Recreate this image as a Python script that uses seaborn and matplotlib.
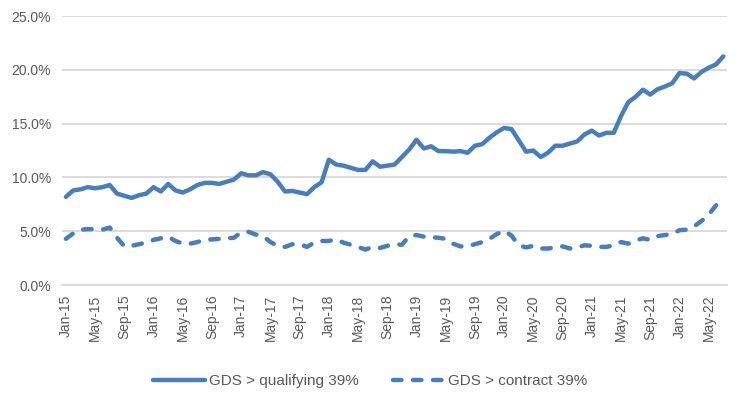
import numpy as np
import pandas as pd
import seaborn as sns
import matplotlib.pyplot as plt
from matplotlib.ticker import FuncFormatter, FixedLocator
from matplotlib.lines import Line2D

# Monthly data Jan-15 .. Jul-22 (share of borrowers, %)
months = pd.date_range("2015-01-01", "2022-07-01", freq="MS")

gds_qualifying = [
    8.2, 8.8, 8.9, 9.1, 9.0, 9.1, 9.3, 8.5, 8.3, 8.1, 8.35, 8.5,
    9.1, 8.7, 9.4, 8.8, 8.6, 8.9, 9.3, 9.5, 9.5, 9.4, 9.6, 9.8,
    10.4, 10.2, 10.2, 10.5, 10.3, 9.6, 8.7, 8.75, 8.6, 8.45, 9.1, 9.55,
    11.65, 11.2, 11.1, 10.9, 10.7, 10.7, 11.5, 11.0, 11.1, 11.2, 11.9, 12.6,
    13.5, 12.7, 12.9, 12.45, 12.45, 12.4, 12.45, 12.3, 12.95, 13.1, 13.7, 14.2,
    14.6, 14.5, 13.45, 12.4, 12.5, 11.9, 12.3, 12.95, 12.95, 13.15, 13.35, 14.0,
    14.35, 13.9, 14.15, 14.15, 15.7, 17.0, 17.5, 18.15, 17.7, 18.2, 18.45, 18.75,
    19.7, 19.65, 19.2, 19.8, 20.2, 20.5, 21.25,
]

gds_contract = [
    4.3, 4.8, 5.15, 5.2, 5.2, 5.15, 5.35, 4.4, 3.6, 3.65, 3.8, 3.95,
    4.2, 4.35, 4.5, 4.1, 3.85, 3.85, 4.0, 4.2, 4.25, 4.3, 4.35, 4.4,
    4.9, 4.95, 4.7, 4.55, 4.0, 3.65, 3.55, 3.8, 3.8, 3.55, 3.95, 4.1,
    4.1, 4.25, 3.95, 3.75, 3.55, 3.3, 3.55, 3.45, 3.65, 3.8, 3.75, 4.55,
    4.65, 4.5, 4.45, 4.4, 4.3, 3.85, 3.6, 3.6, 3.8, 4.0, 4.3, 4.75,
    5.05, 4.6, 3.7, 3.5, 3.65, 3.4, 3.4, 3.5, 3.6, 3.4, 3.5, 3.7,
    3.65, 3.55, 3.55, 3.7, 4.0, 3.85, 4.15, 4.35, 4.2, 4.55, 4.65, 4.75,
    5.1, 5.15, 5.45, 5.95, 6.55, 7.4, 8.25,
]

series_names = ["GDS > qualifying 39%", "GDS > contract 39%"]

df = pd.DataFrame({
    "idx": np.arange(len(months)),
    series_names[0]: np.array(gds_qualifying) / 100,
    series_names[1]: np.array(gds_contract) / 100,
})
long = df.melt(id_vars="idx", var_name="series", value_name="share")

blue = "#4a7ebb"
grey_txt = "#595959"
grid_c = "#d9d9d9"
dash = (1.9, 2.6)

sns.set_style("white")
plt.rcParams["font.family"] = ["Liberation Sans", "DejaVu Sans"]

fig = plt.figure(figsize=(7.41, 4.01), dpi=100)
ax = fig.add_axes([0.084, 0.289, 0.897, 0.671])

sns.lineplot(data=long, x="idx", y="share", hue="series", style="series",
             palette=[blue, blue], dashes=[(None, None), dash],
             linewidth=3.2, ax=ax, legend=False)
for ln in ax.get_lines():
    ln.set_solid_capstyle("round")
    ln.set_dash_capstyle("round")
    ln.set_solid_joinstyle("round")

ax.set_xlim(-0.5, len(months) - 0.5)
ax.set_ylim(0, 0.25)
ax.set_yticks(np.arange(0, 0.2501, 0.05))
ax.yaxis.set_major_formatter(FuncFormatter(lambda v, p: f"{v*100:.1f}%"))
ax.yaxis.grid(True, color=grid_c, linewidth=1.3)
ax.set_axisbelow(True)

label_pos = np.arange(0, len(months), 4)
ax.xaxis.set_major_locator(FixedLocator(label_pos))
ax.set_xticklabels([months[i].strftime("%b-%y") for i in label_pos], rotation=90)
ax.xaxis.set_minor_locator(FixedLocator(np.arange(-0.5, len(months), 4)))
ax.tick_params(axis="x", which="major", length=0, pad=7, labelsize=10, labelcolor=grey_txt)
ax.tick_params(axis="x", which="minor", length=5, width=1.3, color=grid_c, direction="out")
ax.tick_params(axis="y", length=0, pad=8, labelsize=10, labelcolor=grey_txt)

for s in ["top", "right", "left"]:
    ax.spines[s].set_visible(False)
ax.spines["bottom"].set_color(grid_c)
ax.spines["bottom"].set_linewidth(1.3)
ax.set_xlabel("")
ax.set_ylabel("")

handles = [
    Line2D([], [], color=blue, lw=3.2, solid_capstyle="round"),
    Line2D([], [], color=blue, lw=3.2, dashes=dash, dash_capstyle="round"),
]
leg = fig.legend(handles, series_names, loc="center", bbox_to_anchor=(0.5, 0.05),
                 ncol=2, frameon=False, handlelength=3.4, handletextpad=0.25,
                 columnspacing=2.2, fontsize=11)
for t in leg.get_texts():
    t.set_color(grey_txt)

fig.savefig("out.png", dpi=100)
